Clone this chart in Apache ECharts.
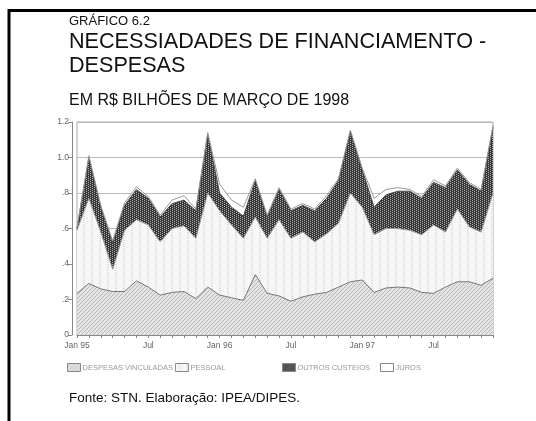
<!DOCTYPE html>
<html>
<head>
<meta charset="utf-8">
<script src="https://cdn.jsdelivr.net/npm/echarts@6/dist/echarts.min.js"></script>
<style>
  html, body { margin: 0; padding: 0; background: #fff; }
  #chart { width: 536px; height: 421px; }
</style>
</head>
<body>
<div id="chart"></div>
<script>
var months = ['Jan 95','Fev 95','Mar 95','Abr 95','Mai 95','Jun 95','Jul 95','Ago 95','Set 95','Out 95','Nov 95','Dez 95',
              'Jan 96','Fev 96','Mar 96','Abr 96','Mai 96','Jun 96','Jul 96','Ago 96','Set 96','Out 96','Nov 96','Dez 96',
              'Jan 97','Fev 97','Mar 97','Abr 97','Mai 97','Jun 97','Jul 97','Ago 97','Set 97','Out 97','Nov 97','Dez 97'];
var tickLabels = ['Jan 95', 'Jul', 'Jan 96', 'Jul', 'Jan 97', 'Jul'];
var yLabels = ['0', '.2', '.4', '.6', '.8', '1.0', '1.2'];

// R$ bilhões, stacked from the bottom up
var vinculadas = [0.235,0.29,0.26,0.245,0.245,0.305,0.27,0.225,0.24,0.245,0.205,0.27,
                  0.225,0.21,0.195,0.34,0.235,0.22,0.19,0.215,0.23,0.24,0.27,0.30,
                  0.31,0.24,0.265,0.27,0.265,0.24,0.235,0.27,0.30,0.30,0.28,0.32];
var pessoal = [0.355,0.48,0.32,0.125,0.345,0.345,0.35,0.30,0.36,0.37,0.34,0.53,
               0.475,0.41,0.35,0.325,0.31,0.43,0.355,0.365,0.295,0.33,0.36,0.50,
               0.41,0.325,0.335,0.33,0.325,0.325,0.385,0.31,0.41,0.31,0.30,0.48];
var outros = [0.01,0.23,0.14,0.15,0.14,0.17,0.15,0.14,0.14,0.145,0.155,0.33,
              0.10,0.10,0.125,0.205,0.12,0.17,0.155,0.15,0.175,0.20,0.24,0.345,
              0.21,0.155,0.19,0.21,0.22,0.205,0.24,0.25,0.22,0.24,0.23,0.37];
var juros = [0.005,0.01,0.01,0.01,0.015,0.015,0.01,0.01,0.02,0.025,0.01,0.01,
             0.05,0.04,0.05,0.01,0.01,0.01,0.01,0.01,0.01,0.015,0.01,0.01,
             0.01,0.05,0.03,0.02,0.01,0.01,0.015,0.01,0.01,0.01,0.01,0.01];

var names = ['DESPESAS VINCULADAS', 'PESSOAL', 'OUTROS CUSTEIOS', 'JUROS'];

/* padrões de preenchimento (imitando a hachura do original) */
function makePattern(w, h, bg, fg, pts) {
    var c = document.createElement('canvas');
    c.width = w; c.height = h;
    var ctx = c.getContext('2d');
    ctx.fillStyle = bg;
    ctx.fillRect(0, 0, w, h);
    ctx.fillStyle = fg;
    for (var i = 0; i < pts.length; i++) {
        ctx.fillRect(pts[i][0], pts[i][1], 1, 1);
    }
    return { image: c, repeat: 'repeat' };
}
var patVinc = makePattern(4, 4, '#e4e4e4', '#b8b8b8', [[0,3],[1,2],[2,1],[3,0]]);
var patPess = makePattern(8, 4, '#f7f7f7', '#dedede', [[3,0],[4,0],[3,2],[4,2]]);
var patOutr = makePattern(4, 4, '#363636', '#b0b0b0', [[0,0],[2,1],[0,2],[2,3]]);
var patJuro = '#ffffff';

function serie(name, data, fill, lineColor) {
    return {
        name: name,
        type: 'line',
        stack: 'total',
        data: data,
        showSymbol: false,
        symbol: 'none',
        lineStyle: { color: lineColor, width: 1 },
        itemStyle: { color: fill, borderColor: '#888', borderWidth: 1 },
        areaStyle: { color: fill, opacity: 1 }
    };
}

var myChart = echarts.init(document.getElementById('chart'));

var font = 'Liberation Sans, Arial, sans-serif';

function tituloStyle(size, lh) {
    return { fontSize: size, fontWeight: 'normal', color: '#111', fontFamily: font, lineHeight: lh };
}

var option = {
    backgroundColor: '#fff',
    animation: false,
    title: [
        { text: 'GRÁFICO 6.2', left: 69, top: 14, padding: 0, textStyle: tituloStyle(13, 14) },
        { text: 'NECESSIADADES DE FINANCIAMENTO -\nDESPESAS', left: 69, top: 30, padding: 0,
          textStyle: tituloStyle(21.6, 24) },
        { text: 'EM R$ BILHÕES DE MARÇO DE 1998', left: 69, top: 92, padding: 0, textStyle: tituloStyle(16, 18) },
        { text: 'Fonte: STN. Elaboração: IPEA/DIPES.', left: 69, top: 390, padding: 0, textStyle: tituloStyle(13.5, 16) }
    ],
    legend: [
        { data: names.slice(0, 2), left: 62, top: 358, icon: 'rect', itemWidth: 13, itemHeight: 8, itemGap: 2,
          itemStyle: { borderColor: '#888', borderWidth: 1 },
          textStyle: { fontSize: 7.5, color: '#999', fontFamily: font, padding: [0, 0, 0, -3] } },
        { data: names.slice(2), left: 277, top: 358, icon: 'rect', itemWidth: 13, itemHeight: 8, itemGap: 10,
          itemStyle: { borderColor: '#888', borderWidth: 1 },
          textStyle: { fontSize: 7.5, color: '#999', fontFamily: font, padding: [0, 0, 0, -3] } }
    ],
    graphic: [
        { type: 'polyline', shape: { points: [[9, 421], [9, 10.5], [536, 10.5]] },
          style: { stroke: '#000', lineWidth: 3, fill: null } }
    ],
    grid: { left: 77, right: 43, top: 122, bottom: 86, show: true, borderColor: '#aaa', borderWidth: 1 },
    xAxis: {
        type: 'category',
        data: months,
        boundaryGap: false,
        axisLine: { lineStyle: { color: '#888' } },
        axisTick: { show: true, interval: 0, length: 3, lineStyle: { color: '#888' } },
        axisLabel: {
            interval: function (idx) { return idx % 6 === 0; },
            formatter: function (v, idx) { return tickLabels[idx / 6]; },
            fontSize: 8.5, color: '#666', fontFamily: font, margin: 6
        },
        splitLine: { show: false }
    },
    yAxis: {
        type: 'value',
        min: 0, max: 1.2, interval: 0.2,
        offset: 5,
        axisLine: { show: true, lineStyle: { color: '#888' } },
        axisTick: { show: true, length: 4, lineStyle: { color: '#888' } },
        axisLabel: {
            formatter: function (v) { return yLabels[Math.round(v / 0.2)]; },
            fontSize: 8.5, color: '#666', fontFamily: font, margin: 3
        },
        splitLine: { show: true, lineStyle: { color: '#bbb', width: 1 } }
    },
    series: [
        serie(names[0], vinculadas, patVinc, '#777'),
        serie(names[1], pessoal, patPess, '#999'),
        serie(names[2], outros, patOutr, '#444'),
        serie(names[3], juros, patJuro, '#999')
    ]
};

myChart.setOption(option);
</script>
</body>
</html>
